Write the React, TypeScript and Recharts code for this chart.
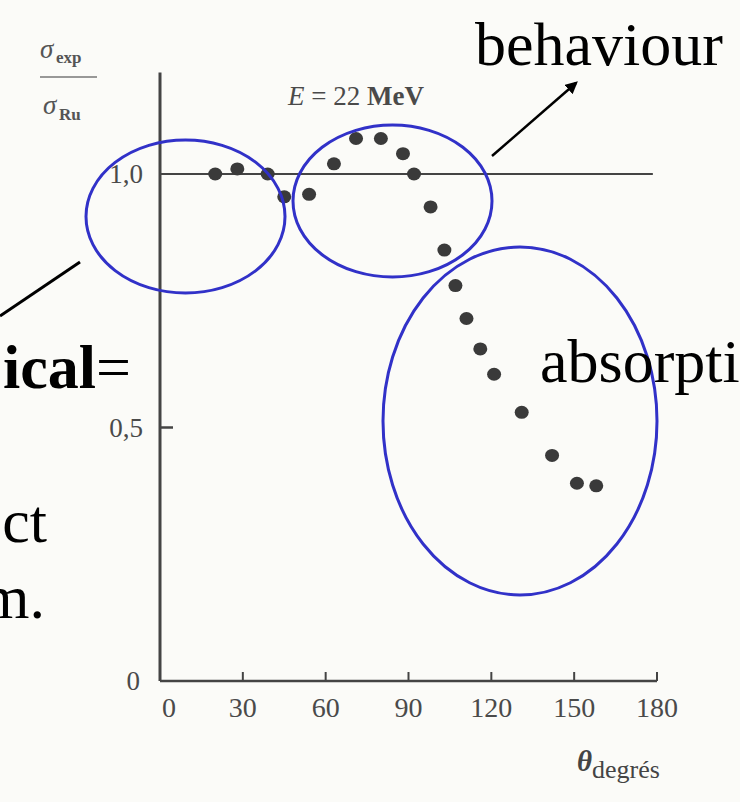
import React from 'react';
import { ScatterChart, Scatter, XAxis, YAxis, ReferenceLine } from 'recharts';

// scattering angle (degrees) and measured / Rutherford ratio
const angles = [20, 28, 39, 45, 54, 63, 71, 80, 88, 92, 98, 103, 107, 111, 116, 121, 131, 142, 151, 158];
const ratios = [1.0, 1.01, 1.0, 0.955, 0.96, 1.02, 1.07, 1.07, 1.04, 1.0, 0.935, 0.85, 0.78, 0.715, 0.655, 0.605, 0.53, 0.445, 0.39, 0.385];

const xTicks = [0, 30, 60, 90, 120, 150, 180];
const yTicks = [0, 0.5, 1.0];
const yTickLabels = ['0', '0,5', '1,0'];

const W = 740;
const H = 802;
const AXIS = '#444';
const INK = '#4a4a4a';
const BLUE = '#3131c8';
const SERIF = "'Liberation Serif', 'Times New Roman', serif";

const points = angles.map((angle, i) => ({ angle, ratio: ratios[i] }));

const XTick = ({ x, y, payload }: any) => (
  <g>
    {payload.value > 0 && (
      <line x1={x} x2={x} y1={y} y2={y - 9} stroke={AXIS} strokeWidth={2} />
    )}
    <text
      x={payload.value === 0 ? x + 9 : x}
      y={y + 36}
      textAnchor="middle"
      fontFamily={SERIF}
      fontSize={28}
      fill={INK}
    >
      {payload.value}
    </text>
  </g>
);

const YTick = ({ x, y, payload }: any) => {
  const label = yTickLabels[yTicks.indexOf(payload.value)];
  return (
    <g>
      {payload.value === 0.5 && (
        <line x1={x} x2={x + 13} y1={y} y2={y} stroke={AXIS} strokeWidth={2.5} />
      )}
      <text
        x={payload.value === 0 ? x - 20 : x - 17}
        y={y + 9}
        textAnchor="end"
        fontFamily={SERIF}
        fontSize={27}
        fill={INK}
      >
        {label}
      </text>
    </g>
  );
};

const Dot = ({ cx, cy }: any) => <ellipse cx={cx} cy={cy} rx={7} ry={6.5} fill="#3a3a3a" />;

// slide annotations on top of the scanned plot
const Overlay = () => (
  <svg
    width={W}
    height={H}
    style={{ position: 'absolute', left: 0, top: 0, pointerEvents: 'none' }}
  >
    <defs>
      <marker id="head" viewBox="0 0 10 10" refX="8" refY="5" markerWidth="5" markerHeight="5" orient="auto">
        <path d="M0,0 L10,5 L0,10 z" fill="#000" />
      </marker>
    </defs>

    {/* axis captions */}
    <g fontFamily={SERIF} fill="#555">
      <text x={40} y={58} fontSize={27} fontStyle="italic">σ</text>
      <text x={56} y={63} fontSize={17} fontWeight="bold">exp</text>
      <line x1={40} x2={97} y1={77} y2={77} stroke="#777" strokeWidth={1.5} />
      <text x={43} y={114} fontSize={27} fontStyle="italic">σ</text>
      <text x={59} y={120} fontSize={17} fontWeight="bold">Ru</text>
    </g>
    <text x={288} y={105} fontFamily={SERIF} fontSize={27} fill="#4a4a4a">
      <tspan fontStyle="italic">E</tspan>
      <tspan> = 22 </tspan>
      <tspan fontWeight="bold">MeV</tspan>
    </text>
    <text x={577} y={771} fontFamily={SERIF} fill="#444">
      <tspan fontSize={29} fontStyle="italic" fontWeight="bold">θ</tspan>
      <tspan fontSize={26} dy={7}>degrés</tspan>
    </text>

    {/* highlighted regions */}
    <g fill="none" stroke={BLUE} strokeWidth={3}>
      <ellipse cx={185.5} cy={216.5} rx={99.5} ry={76.5} />
      <ellipse cx={392.5} cy={201} rx={99.5} ry={76} />
      <ellipse cx={520} cy={421} rx={137} ry={174} />
    </g>

    <line x1={492} y1={156} x2={576} y2={83} stroke="#000" strokeWidth={2.5} markerEnd="url(#head)" />
    <line x1={80} y1={262} x2={0} y2={316} stroke="#000" strokeWidth={3} />

    <g fontFamily={SERIF} fontSize={62} fill="#000">
      <text x={723} y={65} textAnchor="end">behaviour</text>
      <text x={540} y={382}>absorpti</text>
      <text x={131} y={388} textAnchor="end">
        <tspan fontWeight="bold">ical</tspan>=
      </text>
      <text x={47} y={542} textAnchor="end">ct</text>
      <text x={45} y={618} textAnchor="end">m.</text>
    </g>
  </svg>
);

export default function App() {
  return (
    <div
      style={{
        position: 'absolute',
        left: 0,
        top: 0,
        width: W,
        height: H,
        overflow: 'hidden',
        background: '#fbfbf8',
      }}
    >
      <ScatterChart
        width={W}
        height={H}
        margin={{ top: 72.6, right: 83, bottom: 61, left: 100 }}
      >
        <XAxis
          type="number"
          dataKey="angle"
          domain={[0, 180]}
          ticks={xTicks}
          height={60}
          tickSize={0}
          tickMargin={0}
          tickLine={false}
          axisLine={{ stroke: AXIS, strokeWidth: 2.5 }}
          tick={(p: any) => <XTick {...p} />}
        />
        <YAxis
          type="number"
          dataKey="ratio"
          domain={[0, 1.2]}
          ticks={yTicks}
          width={60}
          tickSize={0}
          tickMargin={0}
          tickLine={false}
          axisLine={{ stroke: AXIS, strokeWidth: 3 }}
          tick={(p: any) => <YTick {...p} />}
        />
        <ReferenceLine
          segment={[{ x: 0, y: 1 }, { x: 178.5, y: 1 }]}
          stroke={AXIS}
          strokeWidth={2}
        />
        <Scatter data={points} shape={(p: any) => <Dot {...p} />} isAnimationActive={false} />
      </ScatterChart>
      <Overlay />
    </div>
  );
}
